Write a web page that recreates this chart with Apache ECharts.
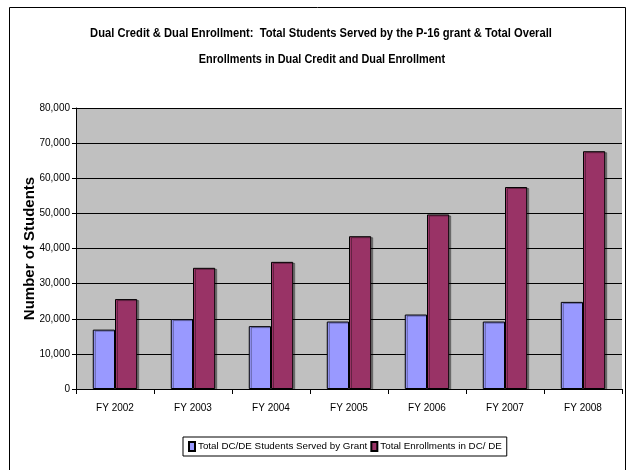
<!DOCTYPE html>
<html><head><meta charset="utf-8">
<script src="https://cdn.jsdelivr.net/npm/echarts@6/dist/echarts.min.js"></script>
<style>html,body{margin:0;padding:0;background:#fff}#c{width:629px;height:470px}</style>
</head><body><div id="c"></div>
<script>
const categories = ['FY 2002','FY 2003','FY 2004','FY 2005','FY 2006','FY 2007','FY 2008'];
const servedByGrant = [16900, 19900, 17900, 19200, 21200, 19200, 24800];
const totalEnrollments = [25600, 34500, 36200, 43500, 49700, 57500, 67700];
const seriesNames = ['Total DC/DE Students Served by Grant', 'Total Enrollments in DC/ DE'];
const titleLines = ['Dual Credit & Dual Enrollment:  Total Students Served by the P-16 grant & Total Overall', 'Enrollments in Dual Credit and Dual Enrollment'];
const yTitle = 'Number of Students';

const chart = echarts.init(document.getElementById('c'), null, {renderer:'canvas'});
const sans = '"Liberation Sans", Arial, sans-serif';
const titleFont = 'bold 13px "Liberation Sans", Arial, sans-serif';
chart.setOption({
  animation:false,
  backgroundColor:'#fff',
  graphic:[
    {type:'rect', shape:{x:9.5,y:7.5,width:616,height:470}, style:{fill:null, stroke:'#000', lineWidth:1}, silent:true},
    {type:'text', x:321, y:33, scaleX:0.86, style:{text:titleLines[0], font:titleFont, fill:'#000', textAlign:'center', textVerticalAlign:'middle'}},
    {type:'text', x:322, y:59, scaleX:0.84, style:{text:titleLines[1], font:titleFont, fill:'#000', textAlign:'center', textVerticalAlign:'middle'}}
  ],
  legend:{top:437, left:183, itemWidth:6, itemHeight:9, itemGap:3, borderColor:'#000', borderWidth:1, borderRadius:0,
    padding:[4,5,4,5], textStyle:{fontFamily:sans, fontSize:9.8, color:'#000', padding:[0,0,0,-2]},
    icon:'rect', data:seriesNames},
  grid:{left:76, right:7, top:108, bottom:81, show:true, backgroundColor:'#C0C0C0', borderWidth:0},
  xAxis:{type:'category', data:categories,
    axisLine:{lineStyle:{color:'#000'}}, axisTick:{show:true, length:5, lineStyle:{color:'#000'}},
    axisLabel:{fontFamily:sans, fontSize:10, color:'#000', margin:14}},
  yAxis:{type:'value', min:0, max:80000, interval:10000,
    name:yTitle, nameLocation:'middle', nameGap:39, nameRotate:90, nameMoveOverlap:false,
    nameTextStyle:{fontFamily:sans, fontWeight:'bold', fontSize:15, color:'#000'},
    axisLine:{show:true, lineStyle:{color:'#000'}}, axisTick:{show:true, length:4, lineStyle:{color:'#000'}},
    splitLine:{lineStyle:{color:'#000', width:1}},
    axisLabel:{fontFamily:sans, fontSize:10, color:'#000', margin:6,
      formatter:v=>v.toLocaleString('en-US')}},
  series:[
    {name:seriesNames[0], type:'bar', data:servedByGrant, barGap:'0%', barCategoryGap:'43%',
     itemStyle:{color:'#9999FF', borderColor:'#000', borderWidth:1, shadowColor:'rgba(0,0,0,0.35)', shadowOffsetX:2, shadowOffsetY:1}},
    {name:seriesNames[1], type:'bar', data:totalEnrollments, barGap:'0%', barCategoryGap:'43%',
     itemStyle:{color:'#993366', borderColor:'#000', borderWidth:1, shadowColor:'rgba(0,0,0,0.35)', shadowOffsetX:2, shadowOffsetY:1}}
  ]
});
</script></body></html>
